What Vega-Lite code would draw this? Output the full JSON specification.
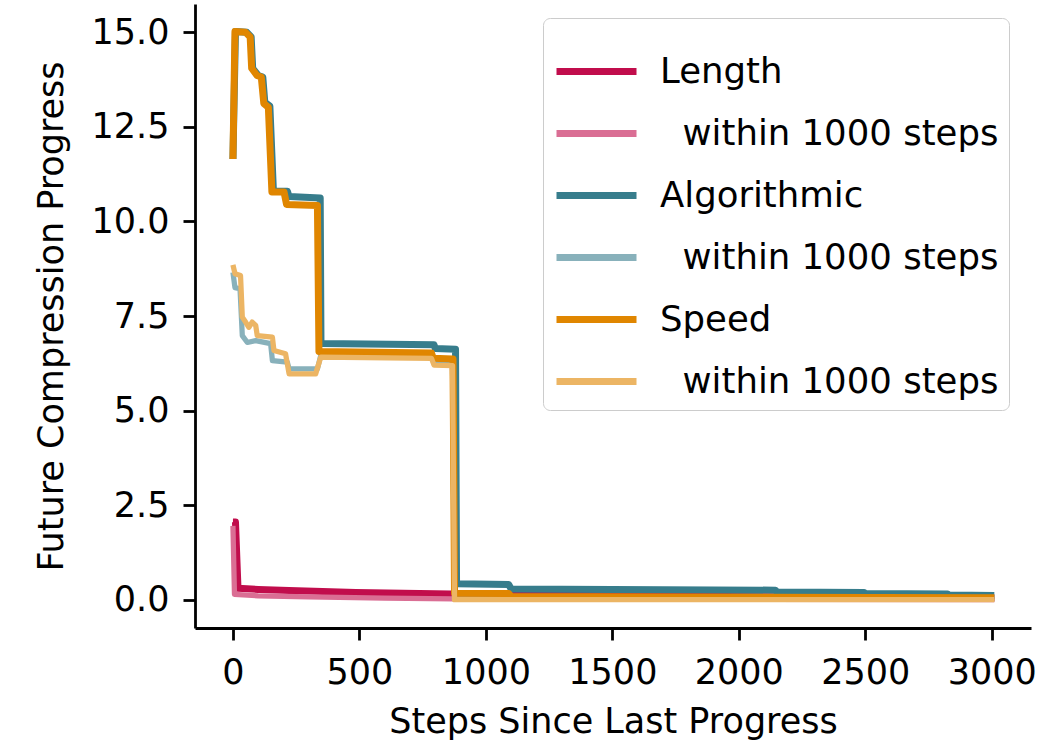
{
  "$schema": "https://vega.github.io/schema/vega-lite/v6.json",
  "width": 836,
  "height": 624,
  "autosize": "none",
  "padding": {"left": 195, "top": 4, "right": 8, "bottom": 121},
  "background": "white",
  "config": {
    "font": "DejaVu Sans",
    "view": {"stroke": null},
    "axis": {
      "grid": false,
      "domainColor": "black",
      "domainWidth": 2.8,
      "tickColor": "black",
      "tickWidth": 2.8,
      "tickSize": 12,
      "labelPadding": 14,
      "labelFontSize": 35,
      "labelColor": "black",
      "titleFontSize": 35,
      "titleFontWeight": "normal",
      "titleColor": "black"
    }
  },
  "data": {
    "values": [
      {"series": "Length", "step": 0, "progress": 2.05},
      {"series": "Length", "step": 10, "progress": 2.05},
      {"series": "Length", "step": 20, "progress": 0.3},
      {"series": "Length", "step": 100, "progress": 0.27},
      {"series": "Length", "step": 222, "progress": 0.24},
      {"series": "Length", "step": 486, "progress": 0.19},
      {"series": "Length", "step": 862, "progress": 0.15},
      {"series": "Length", "step": 1500, "progress": 0.1},
      {"series": "Length", "step": 2200, "progress": 0.07},
      {"series": "Length", "step": 3010, "progress": 0.04},

      {"series": "Length within 1000 steps", "step": 0, "progress": 1.95},
      {"series": "Length within 1000 steps", "step": 6, "progress": 0.14},
      {"series": "Length within 1000 steps", "step": 100, "progress": 0.1},
      {"series": "Length within 1000 steps", "step": 300, "progress": 0.07},
      {"series": "Length within 1000 steps", "step": 600, "progress": 0.04},
      {"series": "Length within 1000 steps", "step": 870, "progress": 0.02},
      {"series": "Length within 1000 steps", "step": 3010, "progress": 0.0},

      {"series": "Algorithmic", "step": 0, "progress": 11.65},
      {"series": "Algorithmic", "step": 10, "progress": 15.02},
      {"series": "Algorithmic", "step": 55, "progress": 15.0},
      {"series": "Algorithmic", "step": 72, "progress": 14.88},
      {"series": "Algorithmic", "step": 78, "progress": 14.05},
      {"series": "Algorithmic", "step": 100, "progress": 13.86},
      {"series": "Algorithmic", "step": 118, "progress": 13.82},
      {"series": "Algorithmic", "step": 126, "progress": 13.15},
      {"series": "Algorithmic", "step": 146, "progress": 13.05},
      {"series": "Algorithmic", "step": 160, "progress": 10.8},
      {"series": "Algorithmic", "step": 215, "progress": 10.8},
      {"series": "Algorithmic", "step": 222, "progress": 10.66},
      {"series": "Algorithmic", "step": 345, "progress": 10.62},
      {"series": "Algorithmic", "step": 348, "progress": 6.77},
      {"series": "Algorithmic", "step": 795, "progress": 6.74},
      {"series": "Algorithmic", "step": 800, "progress": 6.64},
      {"series": "Algorithmic", "step": 880, "progress": 6.62},
      {"series": "Algorithmic", "step": 884, "progress": 0.42},
      {"series": "Algorithmic", "step": 1090, "progress": 0.4},
      {"series": "Algorithmic", "step": 1100, "progress": 0.28},
      {"series": "Algorithmic", "step": 2145, "progress": 0.25},
      {"series": "Algorithmic", "step": 2150, "progress": 0.2},
      {"series": "Algorithmic", "step": 2495, "progress": 0.19},
      {"series": "Algorithmic", "step": 2500, "progress": 0.16},
      {"series": "Algorithmic", "step": 2825, "progress": 0.15},
      {"series": "Algorithmic", "step": 2830, "progress": 0.12},
      {"series": "Algorithmic", "step": 3010, "progress": 0.11},

      {"series": "Algorithmic within 1000 steps", "step": 0, "progress": 8.65},
      {"series": "Algorithmic within 1000 steps", "step": 8, "progress": 8.25},
      {"series": "Algorithmic within 1000 steps", "step": 28, "progress": 8.22},
      {"series": "Algorithmic within 1000 steps", "step": 37, "progress": 6.98},
      {"series": "Algorithmic within 1000 steps", "step": 57, "progress": 6.8},
      {"series": "Algorithmic within 1000 steps", "step": 90, "progress": 6.85},
      {"series": "Algorithmic within 1000 steps", "step": 149, "progress": 6.77},
      {"series": "Algorithmic within 1000 steps", "step": 156, "progress": 6.32},
      {"series": "Algorithmic within 1000 steps", "step": 215, "progress": 6.28},
      {"series": "Algorithmic within 1000 steps", "step": 222, "progress": 6.1},
      {"series": "Algorithmic within 1000 steps", "step": 334, "progress": 6.1},
      {"series": "Algorithmic within 1000 steps", "step": 347, "progress": 6.45},
      {"series": "Algorithmic within 1000 steps", "step": 785, "progress": 6.42},
      {"series": "Algorithmic within 1000 steps", "step": 795, "progress": 6.25},
      {"series": "Algorithmic within 1000 steps", "step": 868, "progress": 6.22},
      {"series": "Algorithmic within 1000 steps", "step": 876, "progress": 0.02},
      {"series": "Algorithmic within 1000 steps", "step": 3010, "progress": 0.02},

      {"series": "Speed", "step": 0, "progress": 11.65},
      {"series": "Speed", "step": 8, "progress": 15.02},
      {"series": "Speed", "step": 50, "progress": 15.0},
      {"series": "Speed", "step": 68, "progress": 14.88},
      {"series": "Speed", "step": 74, "progress": 14.05},
      {"series": "Speed", "step": 95, "progress": 13.86},
      {"series": "Speed", "step": 112, "progress": 13.82},
      {"series": "Speed", "step": 122, "progress": 13.12},
      {"series": "Speed", "step": 140, "progress": 13.02},
      {"series": "Speed", "step": 154, "progress": 10.78},
      {"series": "Speed", "step": 202, "progress": 10.78},
      {"series": "Speed", "step": 212, "progress": 10.45},
      {"series": "Speed", "step": 334, "progress": 10.42},
      {"series": "Speed", "step": 340, "progress": 6.56},
      {"series": "Speed", "step": 785, "progress": 6.52},
      {"series": "Speed", "step": 792, "progress": 6.38},
      {"series": "Speed", "step": 870, "progress": 6.36},
      {"series": "Speed", "step": 876, "progress": 0.17},
      {"series": "Speed", "step": 1090, "progress": 0.16},
      {"series": "Speed", "step": 1100, "progress": 0.08},
      {"series": "Speed", "step": 3010, "progress": 0.05},

      {"series": "Speed within 1000 steps", "step": 0, "progress": 8.85},
      {"series": "Speed within 1000 steps", "step": 8, "progress": 8.62},
      {"series": "Speed within 1000 steps", "step": 30, "progress": 8.57},
      {"series": "Speed within 1000 steps", "step": 37, "progress": 7.47},
      {"series": "Speed within 1000 steps", "step": 50, "progress": 7.34},
      {"series": "Speed within 1000 steps", "step": 63, "progress": 7.2},
      {"series": "Speed within 1000 steps", "step": 76, "progress": 7.34},
      {"series": "Speed within 1000 steps", "step": 90, "progress": 7.25},
      {"series": "Speed within 1000 steps", "step": 96, "progress": 6.98},
      {"series": "Speed within 1000 steps", "step": 156, "progress": 6.94},
      {"series": "Speed within 1000 steps", "step": 162, "progress": 6.59},
      {"series": "Speed within 1000 steps", "step": 208, "progress": 6.5},
      {"series": "Speed within 1000 steps", "step": 222, "progress": 5.97},
      {"series": "Speed within 1000 steps", "step": 327, "progress": 5.97},
      {"series": "Speed within 1000 steps", "step": 347, "progress": 6.41},
      {"series": "Speed within 1000 steps", "step": 785, "progress": 6.38},
      {"series": "Speed within 1000 steps", "step": 795, "progress": 6.2},
      {"series": "Speed within 1000 steps", "step": 868, "progress": 6.19},
      {"series": "Speed within 1000 steps", "step": 876, "progress": 0.0},
      {"series": "Speed within 1000 steps", "step": 3010, "progress": 0.0}
    ]
  },
  "mark": {"type": "line", "strokeJoin": "round", "strokeCap": "butt"},
  "encoding": {
    "x": {
      "field": "step",
      "type": "quantitative",
      "title": "Steps Since Last Progress",
      "scale": {"domain": [-150, 3155], "nice": false, "zero": false},
      "axis": {"values": [0, 500, 1000, 1500, 2000, 2500, 3000], "format": "d", "labelPadding": 15, "titlePadding": 14}
    },
    "y": {
      "field": "progress",
      "type": "quantitative",
      "title": "Future Compression Progress",
      "scale": {"domain": [-0.75, 15.75], "nice": false, "zero": false},
      "axis": {"values": [0, 2.5, 5, 7.5, 10, 12.5, 15], "format": ".1f", "titlePadding": 22}
    },
    "color": {
      "field": "series",
      "type": "nominal",
      "sort": null,
      "scale": {
        "domain": ["Length", "Length within 1000 steps", "Algorithmic", "Algorithmic within 1000 steps", "Speed", "Speed within 1000 steps"],
        "range": ["#c10d4c", "#da6e94", "#377d8c", "#88b1bb", "#e08600", "#ecb564"]
      },
      "legend": {
        "title": null,
        "orient": "none",
        "legendX": 348,
        "legendY": 14,
        "padding": 10,
        "fillColor": "white",
        "strokeColor": "#cccccc",
        "cornerRadius": 7,
        "symbolType": "stroke",
        "symbolSize": 6400,
        "symbolStrokeWidth": 7,
        "labelFontSize": 35.5,
        "labelColor": "black",
        "labelOffset": 20,
        "labelLimit": 600,
        "rowPadding": 0,
        "labelExpr": "indexof(datum.value, 'within') >= 0 ? '\u200b\u00a0\u00a0within 1000 steps' : datum.value"
      }
    },
    "strokeWidth": {
      "condition": {"test": "indexof(datum.series, 'within') >= 0", "value": 5.25},
      "value": 7
    }
  }
}
